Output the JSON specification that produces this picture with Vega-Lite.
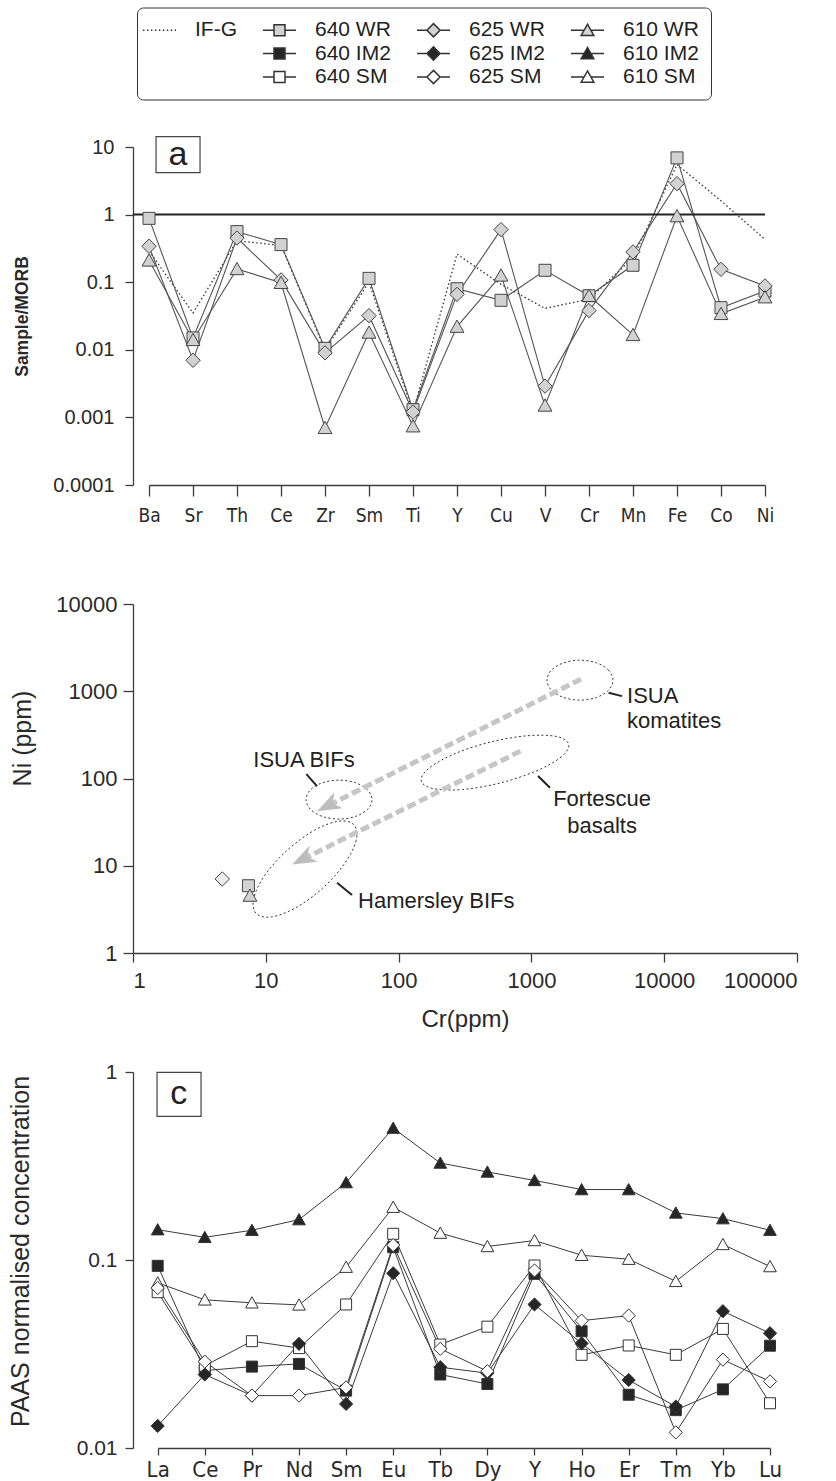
{
  "$schema": "https://vega.github.io/schema/vega-lite/v6.json",
  "background": "white",
  "padding": {"left": 8, "top": 7, "right": 8, "bottom": 8},
  "config": {
    "font": "Liberation Sans",
    "view": {"stroke": null},
    "axis": {"grid": false, "domainColor": "#3c3c3c", "tickColor": "#3c3c3c", "domainWidth": 1.3, "tickWidth": 1.3, "labelColor": "#2a2a2a", "titleColor": "#2a2a2a", "labelFont": "Liberation Sans", "titleFont": "Liberation Sans", "titleFontWeight": "normal"},
    "legend": {"labelFont": "Liberation Sans", "titleFont": "Liberation Sans"}
  },
  "bounds": "flush",
  "spacing": 119,
  "resolve": {
    "scale": {"x": "independent", "y": "independent", "shape": "independent", "fill": "independent"},
    "legend": {"shape": "independent", "fill": "independent"}
  },
  "datasets": {
    "a": [
      {"el": "Ba", "s": "640 WR", "v": 0.88}, {"el": "Sr", "s": "640 WR", "v": 0.015}, {"el": "Th", "s": "640 WR", "v": 0.56}, {"el": "Ce", "s": "640 WR", "v": 0.36}, {"el": "Zr", "s": "640 WR", "v": 0.0105}, {"el": "Sm", "s": "640 WR", "v": 0.114}, {"el": "Ti", "s": "640 WR", "v": 0.0013}, {"el": "Y", "s": "640 WR", "v": 0.08}, {"el": "Cu", "s": "640 WR", "v": 0.054}, {"el": "V", "s": "640 WR", "v": 0.15}, {"el": "Cr", "s": "640 WR", "v": 0.063}, {"el": "Mn", "s": "640 WR", "v": 0.178}, {"el": "Fe", "s": "640 WR", "v": 6.9}, {"el": "Co", "s": "640 WR", "v": 0.042}, {"el": "Ni", "s": "640 WR", "v": 0.074},
      {"el": "Ba", "s": "625 WR", "v": 0.34}, {"el": "Sr", "s": "625 WR", "v": 0.007}, {"el": "Th", "s": "625 WR", "v": 0.45}, {"el": "Ce", "s": "625 WR", "v": 0.108}, {"el": "Zr", "s": "625 WR", "v": 0.009}, {"el": "Sm", "s": "625 WR", "v": 0.032}, {"el": "Ti", "s": "625 WR", "v": 0.0012}, {"el": "Y", "s": "625 WR", "v": 0.066}, {"el": "Cu", "s": "625 WR", "v": 0.6}, {"el": "V", "s": "625 WR", "v": 0.0029}, {"el": "Cr", "s": "625 WR", "v": 0.038}, {"el": "Mn", "s": "625 WR", "v": 0.28}, {"el": "Fe", "s": "625 WR", "v": 2.87}, {"el": "Co", "s": "625 WR", "v": 0.155}, {"el": "Ni", "s": "625 WR", "v": 0.088},
      {"el": "Ba", "s": "610 WR", "v": 0.21}, {"el": "Sr", "s": "610 WR", "v": 0.014}, {"el": "Th", "s": "610 WR", "v": 0.157}, {"el": "Ce", "s": "610 WR", "v": 0.098}, {"el": "Zr", "s": "610 WR", "v": 0.0007}, {"el": "Sm", "s": "610 WR", "v": 0.018}, {"el": "Ti", "s": "610 WR", "v": 0.00074}, {"el": "Y", "s": "610 WR", "v": 0.022}, {"el": "Cu", "s": "610 WR", "v": 0.126}, {"el": "V", "s": "610 WR", "v": 0.0015}, {"el": "Cr", "s": "610 WR", "v": 0.063}, {"el": "Mn", "s": "610 WR", "v": 0.0166}, {"el": "Fe", "s": "610 WR", "v": 0.95}, {"el": "Co", "s": "610 WR", "v": 0.034}, {"el": "Ni", "s": "610 WR", "v": 0.06},
      {"el": "Ba", "s": "IF-G", "v": 0.29}, {"el": "Sr", "s": "IF-G", "v": 0.035}, {"el": "Th", "s": "IF-G", "v": 0.41}, {"el": "Ce", "s": "IF-G", "v": 0.35}, {"el": "Zr", "s": "IF-G", "v": 0.01}, {"el": "Sm", "s": "IF-G", "v": 0.1}, {"el": "Ti", "s": "IF-G", "v": 0.0012}, {"el": "Y", "s": "IF-G", "v": 0.26}, {"el": "Cu", "s": "IF-G", "v": 0.093}, {"el": "V", "s": "IF-G", "v": 0.041}, {"el": "Cr", "s": "IF-G", "v": 0.056}, {"el": "Mn", "s": "IF-G", "v": 0.23}, {"el": "Fe", "s": "IF-G", "v": 5.5}, {"el": "Co", "s": "IF-G", "v": 1.6}, {"el": "Ni", "s": "IF-G", "v": 0.43}
    ],
    "bpts": [
      {"s": "625 WR", "cr": 4.7, "ni": 7.05},
      {"s": "640 WR", "cr": 7.4, "ni": 5.9},
      {"s": "610 WR", "cr": 7.6, "ni": 4.55}
    ],
    "bell": [
      {"name": "ISUA komatites", "i": 0, "cr": 4115, "ni": 1340}, {"name": "ISUA komatites", "i": 1, "cr": 3811, "ni": 1746}, {"name": "ISUA komatites", "i": 2, "cr": 3090, "ni": 2115}, {"name": "ISUA komatites", "i": 3, "cr": 2323, "ni": 2271}, {"name": "ISUA komatites", "i": 4, "cr": 1746, "ni": 2115}, {"name": "ISUA komatites", "i": 5, "cr": 1415, "ni": 1746}, {"name": "ISUA komatites", "i": 6, "cr": 1310, "ni": 1340}, {"name": "ISUA komatites", "i": 7, "cr": 1415, "ni": 1030}, {"name": "ISUA komatites", "i": 8, "cr": 1746, "ni": 849}, {"name": "ISUA komatites", "i": 9, "cr": 2323, "ni": 791}, {"name": "ISUA komatites", "i": 10, "cr": 3090, "ni": 849}, {"name": "ISUA komatites", "i": 11, "cr": 3811, "ni": 1030},
      {"name": "ISUA BIFs", "i": 0, "cr": 63.1, "ni": 57.3}, {"name": "ISUA BIFs", "i": 1, "cr": 58.3, "ni": 74.1}, {"name": "ISUA BIFs", "i": 2, "cr": 47.3, "ni": 89.4}, {"name": "ISUA BIFs", "i": 3, "cr": 35.6, "ni": 95.7}, {"name": "ISUA BIFs", "i": 4, "cr": 26.7, "ni": 89.4}, {"name": "ISUA BIFs", "i": 5, "cr": 21.7, "ni": 74.1}, {"name": "ISUA BIFs", "i": 6, "cr": 20.1, "ni": 57.3}, {"name": "ISUA BIFs", "i": 7, "cr": 21.7, "ni": 44.3}, {"name": "ISUA BIFs", "i": 8, "cr": 26.7, "ni": 36.7}, {"name": "ISUA BIFs", "i": 9, "cr": 35.6, "ni": 34.3}, {"name": "ISUA BIFs", "i": 10, "cr": 47.3, "ni": 36.7}, {"name": "ISUA BIFs", "i": 11, "cr": 58.3, "ni": 44.3},
      {"name": "Fortescue basalts", "i": 0, "cr": 1910, "ni": 247}, {"name": "Fortescue basalts", "i": 1, "cr": 1679, "ni": 177}, {"name": "Fortescue basalts", "i": 2, "cr": 1089, "ni": 122}, {"name": "Fortescue basalts", "i": 3, "cr": 581, "ni": 88.8}, {"name": "Fortescue basalts", "i": 4, "cr": 303, "ni": 74.8}, {"name": "Fortescue basalts", "i": 5, "cr": 184, "ni": 76.4}, {"name": "Fortescue basalts", "i": 6, "cr": 148, "ni": 93.6}, {"name": "Fortescue basalts", "i": 7, "cr": 169, "ni": 131}, {"name": "Fortescue basalts", "i": 8, "cr": 260, "ni": 190}, {"name": "Fortescue basalts", "i": 9, "cr": 487, "ni": 261}, {"name": "Fortescue basalts", "i": 10, "cr": 935, "ni": 309}, {"name": "Fortescue basalts", "i": 11, "cr": 1542, "ni": 303},
      {"name": "Hamersley BIFs", "i": 0, "cr": 46.2, "ni": 29.4}, {"name": "Hamersley BIFs", "i": 1, "cr": 47.9, "ni": 19.5}, {"name": "Hamersley BIFs", "i": 2, "cr": 39.2, "ni": 10.6}, {"name": "Hamersley BIFs", "i": 3, "cr": 26.7, "ni": 5.51}, {"name": "Hamersley BIFs", "i": 4, "cr": 16.8, "ni": 3.3}, {"name": "Hamersley BIFs", "i": 5, "cr": 11.0, "ni": 2.59}, {"name": "Hamersley BIFs", "i": 6, "cr": 8.43, "ni": 2.86}, {"name": "Hamersley BIFs", "i": 7, "cr": 8.13, "ni": 4.31}, {"name": "Hamersley BIFs", "i": 8, "cr": 9.93, "ni": 7.94}, {"name": "Hamersley BIFs", "i": 9, "cr": 14.6, "ni": 15.2}, {"name": "Hamersley BIFs", "i": 10, "cr": 23.2, "ni": 25.5}, {"name": "Hamersley BIFs", "i": 11, "cr": 35.4, "ni": 32.4}
    ],
    "barr": [
      {"arrow": "upper", "i": 0, "cr": 2362, "ni": 1377}, {"arrow": "upper", "i": 1, "cr": 29.3, "ni": 48.8},
      {"arrow": "lower", "i": 0, "cr": 826, "ni": 206}, {"arrow": "lower", "i": 1, "cr": 19.0, "ni": 11.9}
    ],
    "bhead": [
      {"arrow": "upper", "cr": 29.3, "ni": 48.8},
      {"arrow": "lower", "cr": 19.0, "ni": 11.9}
    ],
    "blead": [
      {"cr": 3811, "ni": 959, "cr2": 4810, "ni2": 879},
      {"cr": 1122, "ni": 106.6, "cr2": 1380, "ni2": 78.2},
      {"cr": 20.2, "ni": 112.3, "cr2": 24.3, "ni2": 81.8},
      {"cr": 34.4, "ni": 6.38, "cr2": 44.6, "ni2": 4.62}
    ],
    "btxtl": [
      {"label": "ISUA", "cr": 5248, "ni": 879},
      {"label": "komatites", "cr": 5248, "ni": 455},
      {"label": "Hamersley BIFs", "cr": 49.5, "ni": 3.94}
    ],
    "btxtc": [
      {"label": "Fortescue", "cr": 3404, "ni": 58.1},
      {"label": "basalts", "cr": 3404, "ni": 28.5},
      {"label": "ISUA BIFs", "cr": 19.4, "ni": 162.5}
    ],
    "c": [
      {"el": "La", "s": "610 IM2", "v": 0.145}, {"el": "Ce", "s": "610 IM2", "v": 0.132}, {"el": "Pr", "s": "610 IM2", "v": 0.144}, {"el": "Nd", "s": "610 IM2", "v": 0.164}, {"el": "Sm", "s": "610 IM2", "v": 0.258}, {"el": "Eu", "s": "610 IM2", "v": 0.503}, {"el": "Tb", "s": "610 IM2", "v": 0.328}, {"el": "Dy", "s": "610 IM2", "v": 0.294}, {"el": "Y", "s": "610 IM2", "v": 0.265}, {"el": "Ho", "s": "610 IM2", "v": 0.237}, {"el": "Er", "s": "610 IM2", "v": 0.237}, {"el": "Tm", "s": "610 IM2", "v": 0.178}, {"el": "Yb", "s": "610 IM2", "v": 0.166}, {"el": "Lu", "s": "610 IM2", "v": 0.144},
      {"el": "La", "s": "610 SM", "v": 0.0756}, {"el": "Ce", "s": "610 SM", "v": 0.0614}, {"el": "Pr", "s": "610 SM", "v": 0.0592}, {"el": "Nd", "s": "610 SM", "v": 0.0577}, {"el": "Sm", "s": "610 SM", "v": 0.0916}, {"el": "Eu", "s": "610 SM", "v": 0.191}, {"el": "Tb", "s": "610 SM", "v": 0.139}, {"el": "Dy", "s": "610 SM", "v": 0.118}, {"el": "Y", "s": "610 SM", "v": 0.127}, {"el": "Ho", "s": "610 SM", "v": 0.106}, {"el": "Er", "s": "610 SM", "v": 0.101}, {"el": "Tm", "s": "610 SM", "v": 0.077}, {"el": "Yb", "s": "610 SM", "v": 0.121}, {"el": "Lu", "s": "610 SM", "v": 0.0923},
      {"el": "La", "s": "640 IM2", "v": 0.0931}, {"el": "Ce", "s": "640 IM2", "v": 0.0258}, {"el": "Pr", "s": "640 IM2", "v": 0.0271}, {"el": "Nd", "s": "640 IM2", "v": 0.028}, {"el": "Sm", "s": "640 IM2", "v": 0.0202}, {"el": "Eu", "s": "640 IM2", "v": 0.117}, {"el": "Tb", "s": "640 IM2", "v": 0.0246}, {"el": "Dy", "s": "640 IM2", "v": 0.0219}, {"el": "Y", "s": "640 IM2", "v": 0.0844}, {"el": "Ho", "s": "640 IM2", "v": 0.0418}, {"el": "Er", "s": "640 IM2", "v": 0.0192}, {"el": "Tm", "s": "640 IM2", "v": 0.0159}, {"el": "Yb", "s": "640 IM2", "v": 0.0205}, {"el": "Lu", "s": "640 IM2", "v": 0.035},
      {"el": "La", "s": "640 SM", "v": 0.0674}, {"el": "Ce", "s": "640 SM", "v": 0.0274}, {"el": "Pr", "s": "640 SM", "v": 0.037}, {"el": "Nd", "s": "640 SM", "v": 0.034}, {"el": "Sm", "s": "640 SM", "v": 0.058}, {"el": "Eu", "s": "640 SM", "v": 0.1378}, {"el": "Tb", "s": "640 SM", "v": 0.0355}, {"el": "Dy", "s": "640 SM", "v": 0.0442}, {"el": "Y", "s": "640 SM", "v": 0.0935}, {"el": "Ho", "s": "640 SM", "v": 0.0313}, {"el": "Er", "s": "640 SM", "v": 0.0351}, {"el": "Tm", "s": "640 SM", "v": 0.0313}, {"el": "Yb", "s": "640 SM", "v": 0.043}, {"el": "Lu", "s": "640 SM", "v": 0.0173},
      {"el": "La", "s": "625 IM2", "v": 0.0131}, {"el": "Ce", "s": "625 IM2", "v": 0.0246}, {"el": "Pr", "s": "625 IM2", "v": 0.019}, {"el": "Nd", "s": "625 IM2", "v": 0.0358}, {"el": "Sm", "s": "625 IM2", "v": 0.01715}, {"el": "Eu", "s": "625 IM2", "v": 0.085}, {"el": "Tb", "s": "625 IM2", "v": 0.0269}, {"el": "Dy", "s": "625 IM2", "v": 0.025}, {"el": "Y", "s": "625 IM2", "v": 0.058}, {"el": "Ho", "s": "625 IM2", "v": 0.036}, {"el": "Er", "s": "625 IM2", "v": 0.023}, {"el": "Tm", "s": "625 IM2", "v": 0.0166}, {"el": "Yb", "s": "625 IM2", "v": 0.0534}, {"el": "Lu", "s": "625 IM2", "v": 0.0408},
      {"el": "La", "s": "625 SM", "v": 0.071}, {"el": "Ce", "s": "625 SM", "v": 0.0288}, {"el": "Pr", "s": "625 SM", "v": 0.019}, {"el": "Nd", "s": "625 SM", "v": 0.019}, {"el": "Sm", "s": "625 SM", "v": 0.021}, {"el": "Eu", "s": "625 SM", "v": 0.12}, {"el": "Tb", "s": "625 SM", "v": 0.0337}, {"el": "Dy", "s": "625 SM", "v": 0.0256}, {"el": "Y", "s": "625 SM", "v": 0.088}, {"el": "Ho", "s": "625 SM", "v": 0.0476}, {"el": "Er", "s": "625 SM", "v": 0.0506}, {"el": "Tm", "s": "625 SM", "v": 0.0121}, {"el": "Yb", "s": "625 SM", "v": 0.0295}, {"el": "Lu", "s": "625 SM", "v": 0.0226}
    ]
  },
  "vconcat": [
    {
      "width": 632,
      "height": 338,
      "resolve": {"scale": {"shape": "independent", "fill": "independent"}},
      "layer": [
        {
          "data": {"name": "a"},
          "transform": [{"filter": "datum.s === 'IF-G'"}],
          "mark": {"type": "line", "strokeWidth": 1.3, "strokeDash": [1.5, 2.5], "color": "#333333"},
          "encoding": {
            "x": {"field": "el", "type": "ordinal", "scale": {"type": "point", "domain": ["Ba", "Sr", "Th", "Ce", "Zr", "Sm", "Ti", "Y", "Cu", "V", "Cr", "Mn", "Fe", "Co", "Ni"], "range": [16, 632], "padding": 0}, "axis": {"title": null, "labelAngle": 0, "labelFont": "DejaVu Sans Condensed, Liberation Sans, sans-serif", "labelFontSize": 19, "tickSize": 11, "labelPadding": 10}},
            "y": {"field": "v", "type": "quantitative", "scale": {"type": "log", "domain": [0.0001, 10], "nice": false}, "axis": {"title": "Sample/MORB", "titleFontWeight": "bold", "titleFontSize": 17.5, "titlePadding": 21, "values": [0.0001, 0.001, 0.01, 0.1, 1, 10], "format": "~g", "labelFontSize": 20, "tickSize": 8, "labelPadding": 11}}
          }
        },
        {
          "data": {"name": "a"},
          "transform": [{"filter": "datum.s !== 'IF-G'"}],
          "mark": {"type": "line", "strokeWidth": 1.1, "color": "#555555"},
          "encoding": {
            "x": {"field": "el", "type": "ordinal", "scale": {"type": "point", "domain": ["Ba", "Sr", "Th", "Ce", "Zr", "Sm", "Ti", "Y", "Cu", "V", "Cr", "Mn", "Fe", "Co", "Ni"], "range": [16, 632], "padding": 0}},
            "y": {"field": "v", "type": "quantitative", "scale": {"type": "log", "domain": [0.0001, 10], "nice": false}},
            "detail": {"field": "s", "type": "nominal"}
          }
        },
        {
          "data": {"values": [{}]},
          "mark": {"type": "rule", "strokeWidth": 2, "color": "#222222"},
          "encoding": {"y": {"datum": 1, "type": "quantitative"}}
        },
        {
          "data": {"name": "a"},
          "transform": [{"filter": "datum.s !== 'IF-G'"}],
          "mark": {"type": "point", "filled": true, "size": 144, "stroke": "#444444", "strokeWidth": 1, "opacity": 1},
          "encoding": {
            "x": {"field": "el", "type": "ordinal", "scale": {"type": "point", "domain": ["Ba", "Sr", "Th", "Ce", "Zr", "Sm", "Ti", "Y", "Cu", "V", "Cr", "Mn", "Fe", "Co", "Ni"], "range": [16, 632], "padding": 0}},
            "y": {"field": "v", "type": "quantitative", "scale": {"type": "log", "domain": [0.0001, 10], "nice": false}},
            "shape": {"field": "s", "type": "nominal", "legend": null,
              "scale": {"domain": ["640 WR", "625 WR", "610 WR"], "range": ["M-1,-1H1V1H-1Z", "M0,-1.2L1.2,0L0,1.2L-1.2,0Z", "M0,-1.1L1.15,0.95H-1.15Z"]}},
            "fill": {"field": "s", "type": "nominal", "legend": null,
              "scale": {"domain": ["640 WR", "625 WR", "610 WR"], "range": ["#d2d2d2", "#d2d2d2", "#d2d2d2"]}}
          }
        },
        {
          "data": {"name": "a"},
          "transform": [{"filter": "false"}],
          "mark": {"type": "point", "filled": true, "stroke": "#333333", "strokeWidth": 1, "opacity": 1},
          "encoding": {
            "x": {"field": "el", "type": "ordinal", "scale": {"type": "point", "domain": ["Ba", "Sr", "Th", "Ce", "Zr", "Sm", "Ti", "Y", "Cu", "V", "Cr", "Mn", "Fe", "Co", "Ni"], "range": [16, 632], "padding": 0}},
            "y": {"field": "v", "type": "quantitative", "scale": {"type": "log", "domain": [0.0001, 10], "nice": false}},
            "shape": {"field": "s", "type": "nominal",
              "scale": {"domain": ["IF-G", "640 WR", "625 WR", "610 WR", "_1", "640 IM2", "625 IM2", "610 IM2", "_2", "640 SM", "625 SM", "610 SM"],
                "range": ["M-3,0H-2.73M-2.28,0H-2.01M-1.56,0H-1.29M-0.84,0H-0.57M-0.12,0H0.15M0.6,0H0.87M1.32,0H1.59M2.04,0H2.31M2.76,0H3", "M-3,0H-1M1,0H3M-1,-1H1V1H-1Z", "M-3,0H-1.2M1.2,0H3M0,-1.2L1.2,0L0,1.2L-1.2,0Z", "M-3,0H-0.65M0.65,0H3M0,-1.1L1.15,0.95H-1.15Z", "M0,0", "M-3,0H-1M1,0H3M-1,-1H1V1H-1Z", "M-3,0H-1.2M1.2,0H3M0,-1.2L1.2,0L0,1.2L-1.2,0Z", "M-3,0H-0.65M0.65,0H3M0,-1.1L1.15,0.95H-1.15Z", "M0,0", "M-3,0H-1M1,0H3M-1,-1H1V1H-1Z", "M-3,0H-1.2M1.2,0H3M0,-1.2L1.2,0L0,1.2L-1.2,0Z", "M-3,0H-0.65M0.65,0H3M0,-1.1L1.15,0.95H-1.15Z"]},
              "legend": {"orient": "none", "legendX": 4, "legendY": -139.5, "direction": "horizontal", "columns": 4, "gridAlign": "each",
                "title": null, "labelFontSize": 21, "labelColor": "#222222", "labelOffset": 25,
                "labelExpr": "indexof(datum.label,'_')===0 ? '' : datum.label",
                "columnPadding": 23, "rowPadding": 1.5, "symbolSize": 121,
                "strokeColor": "#333333", "cornerRadius": 6, "padding": 12}},
            "fill": {"field": "s", "type": "nominal",
              "scale": {"domain": ["IF-G", "640 WR", "625 WR", "610 WR", "_1", "640 IM2", "625 IM2", "610 IM2", "_2", "640 SM", "625 SM", "610 SM"],
                "range": ["#ffffff", "#d2d2d2", "#d2d2d2", "#d2d2d2", "#ffffff", "#262626", "#262626", "#262626", "#ffffff", "#ffffff", "#ffffff", "#ffffff"]},
              "legend": {"orient": "none", "legendX": 4, "legendY": -139.5, "direction": "horizontal", "columns": 4, "gridAlign": "each",
                "title": null, "labelFontSize": 21, "labelColor": "#222222", "labelOffset": 25,
                "labelExpr": "indexof(datum.label,'_')===0 ? '' : datum.label",
                "columnPadding": 23, "rowPadding": 1.5, "symbolSize": 121,
                "strokeColor": "#333333", "cornerRadius": 6, "padding": 12}}
          }
        },
        {
          "data": {"values": [{}]},
          "mark": {"type": "point", "shape": "M0.32,-0.82H2.32V0.82H0.32Z", "size": 1936, "filled": true, "fill": "white", "stroke": "#444444", "strokeWidth": 1.2, "opacity": 1},
          "encoding": {"x": {"datum": "Ba", "type": "ordinal"}, "y": {"datum": 7.7, "type": "quantitative"}}
        },
        {
          "data": {"values": [{}]},
          "mark": {"type": "text", "fontSize": 34, "align": "center", "baseline": "middle", "dx": 29, "color": "#222222"},
          "encoding": {"x": {"datum": "Ba", "type": "ordinal"}, "y": {"datum": 7.7, "type": "quantitative"}, "text": {"value": "a"}}
        }
      ]
    },
    {
      "width": 664,
      "height": 349,
      "encoding": {
        "x": {"field": "cr", "type": "quantitative", "scale": {"type": "log", "domain": [1, 100000], "nice": false}, "axis": {"title": "Cr(ppm)", "titleFontSize": 24, "titlePadding": 16, "values": [1, 10, 100, 1000, 10000, 100000], "format": "~g", "labelFontSize": 22, "tickSize": 9, "labelPadding": 8}},
        "y": {"field": "ni", "type": "quantitative", "scale": {"type": "log", "domain": [1, 10000], "nice": false}, "axis": {"title": "Ni (ppm)", "titleFontSize": 25, "titlePadding": 20, "titleY": 134, "values": [1, 10, 100, 1000, 10000], "format": "~g", "labelFontSize": 22, "tickSize": 10, "labelPadding": 6}}
      },
      "layer": [
        {
          "data": {"name": "bell"},
          "mark": {"type": "line", "interpolate": "cardinal-closed", "strokeWidth": 1, "strokeDash": [2, 2.5], "color": "#333333"},
          "encoding": {"detail": {"field": "name", "type": "nominal"}, "order": {"field": "i", "type": "quantitative"}}
        },
        {
          "data": {"name": "barr"},
          "mark": {"type": "line", "strokeWidth": 5, "strokeDash": [9, 4], "strokeCap": "butt", "color": "#c6c6c6"},
          "encoding": {"detail": {"field": "arrow", "type": "nominal"}, "order": {"field": "i", "type": "quantitative"}}
        },
        {
          "data": {"name": "bhead"},
          "mark": {"type": "point", "shape": "M0,-1L0.75,1L0,0.45L-0.75,1Z", "size": 576, "angle": 243, "filled": true, "fill": "#bdbdbd", "strokeWidth": 0, "opacity": 1},
          "encoding": {}
        },
        {
          "data": {"name": "blead"},
          "mark": {"type": "rule", "strokeWidth": 2, "color": "#222222"},
          "encoding": {"x2": {"field": "cr2"}, "y2": {"field": "ni2"}}
        },
        {
          "data": {"name": "btxtl"},
          "mark": {"type": "text", "align": "left", "baseline": "middle", "fontSize": 22, "color": "#222222"},
          "encoding": {"text": {"field": "label"}}
        },
        {
          "data": {"name": "btxtc"},
          "mark": {"type": "text", "align": "center", "baseline": "middle", "fontSize": 22, "color": "#222222"},
          "encoding": {"text": {"field": "label"}}
        },
        {
          "data": {"name": "bpts"},
          "mark": {"type": "point", "filled": true, "size": 144, "stroke": "#444444", "strokeWidth": 1, "opacity": 1},
          "encoding": {
            "shape": {"field": "s", "type": "nominal", "legend": null,
              "scale": {"domain": ["640 WR", "625 WR", "610 WR"], "range": ["M-1,-1H1V1H-1Z", "M0,-1.2L1.2,0L0,1.2L-1.2,0Z", "M0,-1.1L1.15,0.95H-1.15Z"]}},
            "fill": {"field": "s", "type": "nominal", "legend": null,
              "scale": {"domain": ["640 WR", "625 WR", "610 WR"], "range": ["#d2d2d2", "#ececec", "#d2d2d2"]}}
          }
        },
        {
          "data": {"values": [{}]},
          "mark": {"type": "point", "shape": "M-1,-1H1V1H-1Z", "size": 2025, "filled": true, "fill": "white", "stroke": "#444444", "strokeWidth": 1.2, "opacity": 1},
          "encoding": {"x": {"datum": 2.2, "type": "quantitative"}, "y": {"datum": 5570, "type": "quantitative"}}
        },
        {
          "data": {"values": [{}]},
          "mark": {"type": "text", "fontSize": 34, "align": "center", "baseline": "middle", "color": "#222222"},
          "encoding": {"x": {"datum": 2.2, "type": "quantitative"}, "y": {"datum": 5570, "type": "quantitative"}, "text": {"value": "b"}}
        }
      ]
    },
    {
      "width": 637,
      "height": 376,
      "layer": [
        {
          "data": {"name": "c"},
          "mark": {"type": "line", "strokeWidth": 1, "color": "#3a3a3a"},
          "encoding": {
            "x": {"field": "el", "type": "ordinal", "scale": {"type": "point", "domain": ["La", "Ce", "Pr", "Nd", "Sm", "Eu", "Tb", "Dy", "Y", "Ho", "Er", "Tm", "Yb", "Lu"], "range": [24.7, 637], "padding": 0}, "axis": {"title": null, "labelAngle": 0, "labelFont": "DejaVu Sans Condensed, Liberation Sans, sans-serif", "labelFontSize": 22, "tickSize": 7, "labelPadding": 4}},
            "y": {"field": "v", "type": "quantitative", "scale": {"type": "log", "domain": [0.01, 1], "nice": false}, "axis": {"title": "PAAS normalised concentration", "titleFontSize": 25, "titlePadding": 43, "titleY": 179, "values": [0.01, 0.1, 1], "format": "~g", "labelFontSize": 21, "tickSize": 8, "labelPadding": 8}},
            "detail": {"field": "s", "type": "nominal"}
          }
        },
        {
          "data": {"name": "c"},
          "mark": {"type": "point", "filled": true, "size": 121, "stroke": "#333333", "strokeWidth": 1, "opacity": 1},
          "encoding": {
            "x": {"field": "el", "type": "ordinal", "scale": {"type": "point", "domain": ["La", "Ce", "Pr", "Nd", "Sm", "Eu", "Tb", "Dy", "Y", "Ho", "Er", "Tm", "Yb", "Lu"], "range": [24.7, 637], "padding": 0}},
            "y": {"field": "v", "type": "quantitative", "scale": {"type": "log", "domain": [0.01, 1], "nice": false}},
            "shape": {"field": "s", "type": "nominal", "legend": null,
              "scale": {"domain": ["640 IM2", "625 IM2", "610 IM2", "640 SM", "625 SM", "610 SM"],
                "range": ["M-1,-1H1V1H-1Z", "M0,-1.2L1.2,0L0,1.2L-1.2,0Z", "M0,-1.1L1.15,0.95H-1.15Z", "M-1,-1H1V1H-1Z", "M0,-1.2L1.2,0L0,1.2L-1.2,0Z", "M0,-1.1L1.15,0.95H-1.15Z"]}},
            "fill": {"field": "s", "type": "nominal", "legend": null,
              "scale": {"domain": ["640 IM2", "625 IM2", "610 IM2", "640 SM", "625 SM", "610 SM"],
                "range": ["#262626", "#262626", "#262626", "#ffffff", "#ffffff", "#ffffff"]}}
          }
        },
        {
          "data": {"values": [{}]},
          "mark": {"type": "point", "shape": "M-0.03,-1H1.97V1H-0.03Z", "size": 1936, "filled": true, "fill": "white", "stroke": "#444444", "strokeWidth": 1.2, "opacity": 1},
          "encoding": {"x": {"datum": "La", "type": "ordinal"}, "y": {"datum": 0.76, "type": "quantitative"}}
        },
        {
          "data": {"values": [{}]},
          "mark": {"type": "text", "fontSize": 34, "align": "center", "baseline": "middle", "dx": 21, "color": "#222222"},
          "encoding": {"x": {"datum": "La", "type": "ordinal"}, "y": {"datum": 0.76, "type": "quantitative"}, "text": {"value": "c"}}
        }
      ]
    }
  ]
}
